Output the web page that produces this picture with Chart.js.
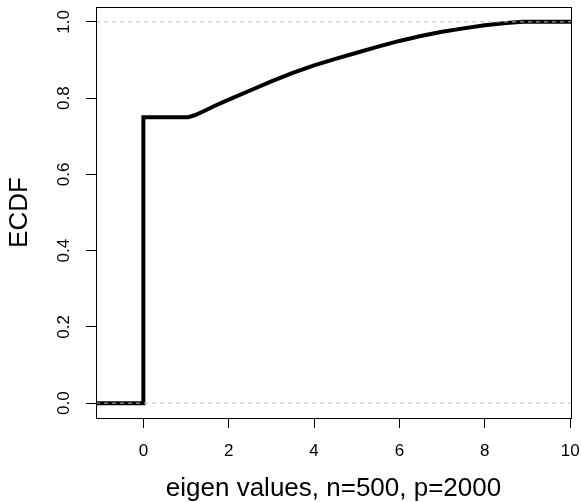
<!DOCTYPE html>
<html>
<head>
<meta charset="utf-8">
<script src="https://cdn.jsdelivr.net/npm/chart.js@4.4.1/dist/chart.umd.min.js"></script>
<style>
  html, body { margin: 0; padding: 0; background: #fff; }
  #wrap { width: 581px; height: 502px; }
</style>
</head>
<body>
<div id="wrap"><canvas id="ecdfChart" width="581" height="502"></canvas></div>
<script>
// ECDF of the sample eigen values (step at zero, then the smooth part)
const eigenX = [-1.11, 0, 0, 1.05, 1.2, 1.4, 1.64, 2.0, 2.5, 3.0, 3.5, 4.0, 4.5,
                5.0, 5.5, 6.0, 6.5, 7.0, 7.5, 8.0, 8.5, 8.9, 10.02];
const ecdfY  = [0, 0, 0.75, 0.75, 0.755, 0.765, 0.778, 0.796, 0.820, 0.844, 0.866, 0.886, 0.903,
                0.919, 0.935, 0.950, 0.963, 0.974, 0.983, 0.991, 0.997, 1.0, 1.0];

// reference levels drawn as dashed lines
const refLevels = [0, 1];

// axis limits and ticks
const xMin = -1.11, xMax = 10.02;
const yMin = -0.039, yMax = 1.039;
const xTicks = [0, 2, 4, 6, 8, 10];
const yTicks = [0, 0.2, 0.4, 0.6, 0.8, 1.0];

const xLabel = 'eigen values, n=500, p=2000';
const yLabel = 'ECDF';

const FONT = 'Liberation Sans, Arial, Helvetica, sans-serif';

const refSets = refLevels.map(h => ({
    data: [{ x: xMin, y: h }, { x: xMax, y: h }],
    borderColor: '#bdbdbd',
    borderWidth: 1,
    borderDash: [4, 4],
    pointRadius: 0,
    tension: 0
}));

const ecdfSet = {
    data: eigenX.map((x, i) => ({ x: x, y: ecdfY[i] })),
    borderColor: '#000',
    borderWidth: 4,
    borderJoinStyle: 'miter',
    borderCapStyle: 'butt',
    pointRadius: 0,
    tension: 0
};

// box around the plot region
const frame = {
    id: 'frame',
    afterDraw(chart) {
        const { ctx, chartArea: a } = chart;
        ctx.save();
        ctx.strokeStyle = '#000';
        ctx.lineWidth = 1;
        ctx.strokeRect(Math.round(a.left) + 0.5, Math.round(a.top) + 0.5,
                       Math.round(a.right - a.left), Math.round(a.bottom - a.top));
        ctx.restore();
    }
};

// keep the plot region fixed: no extra room for overhanging tick labels
function noPadding(s) {
    s.paddingLeft = 0;
    s.paddingRight = 0;
    s.paddingTop = 0;
    s.paddingBottom = 0;
}

const ctx = document.getElementById('ecdfChart').getContext('2d');
const ecdfChart = new Chart(ctx, {
    type: 'line',
    // dataset 0 is drawn last, so the dashed lines sit on top
    data: { datasets: [...refSets, ecdfSet] },
    options: {
        responsive: false,
        animation: false,
        devicePixelRatio: 1,
        layout: { padding: { top: 7, right: 10, left: 0, bottom: 0 } },
        plugins: {
            legend: { display: false },
            tooltip: { enabled: false }
        },
        scales: {
            x: {
                type: 'linear',
                min: xMin,
                max: xMax,
                afterBuildTicks: s => { s.ticks = xTicks.map(v => ({ value: v })); },
                afterFit: s => { s.height = 84; noPadding(s); },
                border: { display: false },
                grid: {
                    drawOnChartArea: false,
                    drawTicks: true,
                    tickLength: 10,
                    tickColor: '#000',
                    tickWidth: 1
                },
                ticks: {
                    color: '#000',
                    padding: 13,
                    maxRotation: 0,
                    autoSkip: false,
                    font: { family: FONT, size: 17 },
                    callback: v => String(v)
                },
                title: {
                    display: true,
                    text: xLabel,
                    color: '#000',
                    font: { family: FONT, size: 26, lineHeight: 1 },
                    padding: { top: 0, bottom: 0 }
                }
            },
            y: {
                type: 'linear',
                min: yMin,
                max: yMax,
                afterBuildTicks: s => { s.ticks = yTicks.map(v => ({ value: v })); },
                afterFit: s => { s.width = 96; noPadding(s); },
                border: { display: false },
                grid: {
                    drawOnChartArea: false,
                    drawTicks: true,
                    tickLength: 10,
                    tickColor: '#000',
                    tickWidth: 1
                },
                ticks: {
                    color: '#000',
                    padding: 10,
                    minRotation: 90,
                    maxRotation: 90,
                    crossAlign: 'center',
                    autoSkip: false,
                    font: { family: FONT, size: 17 },
                    callback: v => v.toFixed(1)
                },
                title: {
                    display: true,
                    text: yLabel,
                    color: '#000',
                    font: { family: FONT, size: 26, lineHeight: 1 },
                    padding: { top: 7, bottom: 0 }
                }
            }
        }
    },
    plugins: [frame]
});
</script>
</body>
</html>
